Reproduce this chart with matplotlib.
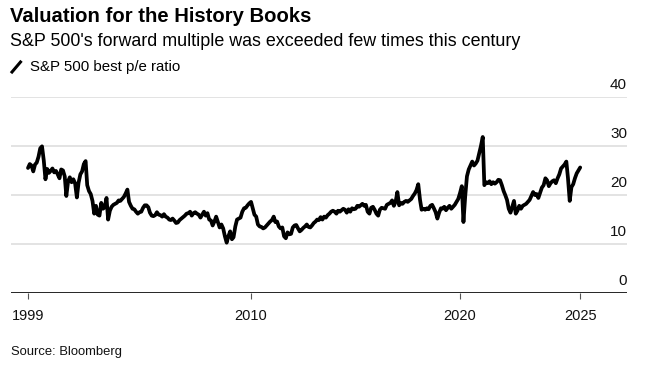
import matplotlib
matplotlib.use("Agg")
import matplotlib.pyplot as plt
import matplotlib.transforms as mtransforms
from matplotlib.lines import Line2D
import pandas as pd

# Monthly S&P 500 best P/E ratio, May 1999 - Oct 2025
pe = [
    # 1999 (May-Dec)
    25.5, 26.3, 26.0, 24.8, 26.2, 26.6, 27.8, 29.5,
    # 2000
    29.9, 27.0, 23.2, 25.3, 24.5, 24.9, 25.4, 24.6, 24.9, 24.2, 23.4, 25.2,
    # 2001
    25.0, 23.8, 19.8, 22.8, 23.6, 22.6, 23.2, 22.4, 19.5, 22.5, 24.2, 24.8,
    # 2002
    26.3, 26.9, 22.0, 20.8, 20.2, 18.8, 16.2, 17.8, 16.0, 15.8, 18.4, 17.2,
    # 2003
    17.5, 19.4, 15.0, 16.8, 17.6, 18.0, 18.2, 18.4, 18.9, 18.8, 19.2, 19.6,
    # 2004
    20.3, 21.1, 18.6, 17.8, 17.2, 17.1, 16.6, 16.2, 16.5, 16.6, 17.4, 17.9,
    # 2005
    17.9, 17.5, 16.4, 15.8, 15.7, 15.9, 16.5, 16.0, 15.9, 15.6, 16.1, 15.6,
    # 2006
    15.4, 15.0, 14.9, 15.2, 14.8, 14.3, 14.4, 14.9, 15.2, 15.5, 15.8, 16.2,
    # 2007
    16.3, 16.6, 15.8, 16.3, 16.5, 16.2, 16.0, 15.4, 16.0, 16.6, 15.8, 16.3,
    # 2008
    15.0, 14.8, 13.8, 14.6, 15.6, 14.5, 13.4, 14.0, 13.2, 11.6, 10.3, 11.6,
    # 2009
    12.6, 11.0, 11.4, 13.6, 15.0, 15.2, 15.4, 16.6, 17.3, 17.4, 17.9, 18.3,
    # 2010
    18.6, 17.2, 16.0, 15.6, 14.0, 13.6, 13.5, 13.2, 13.4, 13.8, 14.2, 14.6,
    # 2011
    14.9, 15.6, 14.5, 14.6, 13.6, 13.2, 13.4, 11.6, 11.2, 12.4, 12.0, 12.1,
    # 2012
    13.4, 13.8, 13.9, 13.2, 12.6, 12.9, 13.3, 13.6, 14.0, 13.5, 13.4, 13.8,
    # 2013
    14.3, 14.6, 15.0, 14.9, 15.5, 15.0, 15.6, 15.4, 15.9, 16.2, 16.6, 16.8,
    # 2014
    16.6, 16.2, 16.8, 16.6, 16.9, 17.2, 17.0, 16.4, 17.1, 16.6, 17.3, 17.1,
    # 2015
    17.2, 17.8, 17.6, 17.9, 18.2, 17.8, 18.0, 16.6, 16.2, 17.4, 17.6, 17.0,
    # 2016
    16.2, 15.8, 17.0, 17.4, 17.3, 17.2, 18.0, 18.2, 18.4, 18.9, 17.8, 18.6,
    # 2017
    20.6, 17.9, 18.4, 18.2, 18.6, 18.8, 18.6, 18.9, 19.2, 19.8, 20.3, 21.0,
    # 2018
    22.2, 19.0, 17.0, 17.2, 17.0, 17.3, 17.1, 17.8, 18.0, 17.3, 16.5, 15.2,
    # 2019
    16.4, 17.3, 17.2, 17.6, 16.9, 17.4, 17.8, 17.2, 17.6, 18.0, 18.6, 19.2,
    # 2020
    20.4, 21.8, 14.5, 19.8, 23.8, 25.2, 26.0, 26.8, 26.0, 26.4, 27.0, 28.5,
    # 2021
    30.0, 31.8, 22.0, 22.6, 22.4, 22.8, 22.2, 22.6, 22.3, 22.6, 23.1, 23.0,
    # 2022
    22.0, 20.8, 20.0, 19.0, 17.2, 16.4, 17.6, 18.8, 16.2, 16.8, 17.8, 17.2,
    # 2023
    17.8, 18.0, 18.2, 18.6, 19.0, 19.8, 20.6, 20.0, 20.2, 19.4, 20.5, 21.5,
    # 2024
    22.0, 23.4, 23.0, 21.8, 22.4, 22.8, 23.0, 22.4, 23.4, 24.2, 25.4, 25.8,
    # 2025 (Jan-Oct)
    26.2, 26.8, 23.5, 18.8, 21.6, 22.2, 23.4, 24.4, 25.0, 25.6,
]
dates = pd.date_range("1999-05-01", periods=len(pe), freq="MS")

y_ticks = [0, 10, 20, 30, 40]
x_tick_dates = [dates[0], pd.Timestamp("2010-01-01"), pd.Timestamp("2020-01-01"), dates[-1]]
x_tick_labels = ["1999", "2010", "2020", "2025"]

title = "Valuation for the History Books"
subtitle = "S&P 500's forward multiple was exceeded few times this century"
legend_label = "S&P 500 best p/e ratio"
source = "Source: Bloomberg"

FONT = "Liberation Sans"
W, H = 649, 369
fig = plt.figure(figsize=(W / 100, H / 100), dpi=100)
fig.patch.set_facecolor("white")

ax_left, ax_right = 11, 627
ax_top, ax_bottom = 96.7, 293.3
ax = fig.add_axes([ax_left / W, (H - ax_bottom) / H, (ax_right - ax_left) / W, (ax_bottom - ax_top) / H])
ax.set_facecolor("white")

ax.plot(dates, pe, color="black", lw=2.7, solid_joinstyle="round", solid_capstyle="round", zorder=3)
ax.set_ylim(0, 40)
ax.set_xlim(pd.Timestamp("1998-07-08"), pd.Timestamp("2027-12-28"))

for v in y_ticks[1:]:
    ax.axhline(v, color="#dedede", lw=1.2, zorder=1)
ax.axhline(0, color="black", lw=1.2, zorder=2)

for s in ax.spines.values():
    s.set_visible(False)
ax.set_yticks([])
ax.set_xticks(x_tick_dates)
ax.set_xticklabels(x_tick_labels, fontsize=10.5, family=FONT, color="#111111")
ax.tick_params(axis="x", length=4, width=0.8, color="#555555", pad=7)

trans = mtransforms.blended_transform_factory(ax.transAxes, ax.transData)
for v in y_ticks:
    ax.text(1.0, v, str(v), transform=trans + mtransforms.ScaledTranslation(0, 8 / 100, fig.dpi_scale_trans),
            ha="right", va="baseline", fontsize=11, family=FONT, color="#111111")

fig.text(10 / W, 1 - 17 / H, title, fontsize=14.6, fontweight="bold", family=FONT, va="center", ha="left", color="black")
fig.text(10 / W, 1 - 42 / H, subtitle, fontsize=12.9, family=FONT, va="center", ha="left", color="black")
fig.add_artist(Line2D([12 / W, 20.5 / W], [1 - 72 / H, 1 - 62 / H], color="black", lw=2.2, transform=fig.transFigure))
fig.text(30 / W, 1 - 67 / H, legend_label, fontsize=10.8, family=FONT, va="center", ha="left", color="black")
fig.text(11 / W, 1 - 352 / H, source, fontsize=9.4, family=FONT, va="center", ha="left", color="#111111")

fig.savefig("out.png", dpi=100, facecolor="white")
